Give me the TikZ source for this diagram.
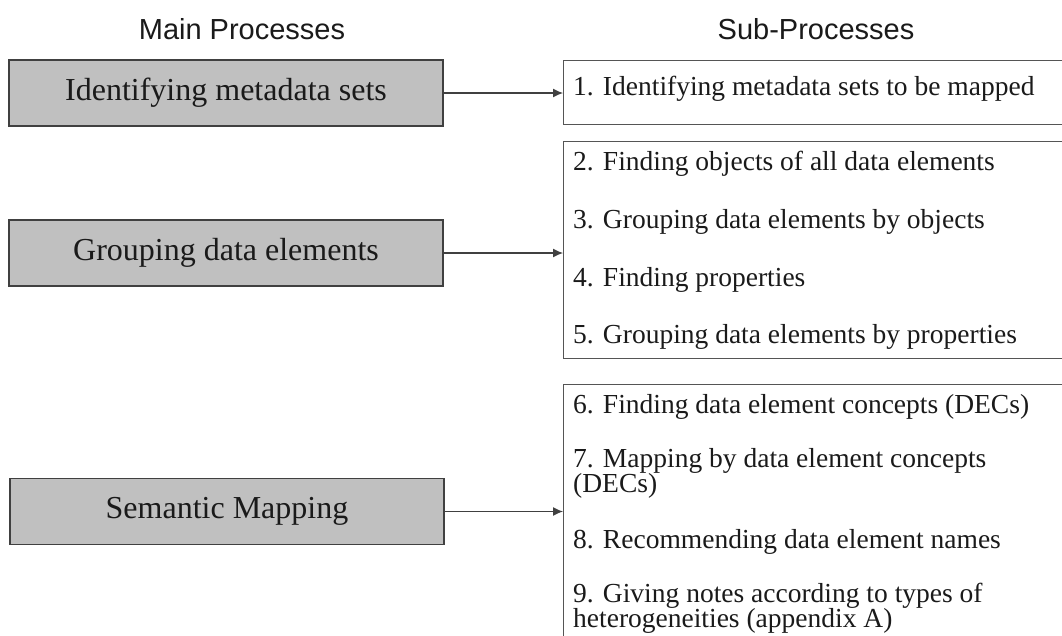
\documentclass[tikz,border=0pt]{standalone}
\usepackage{fontspec}
\setmainfont{Liberation Serif}
\newfontfamily\hdrfont{Liberation Sans}
\usetikzlibrary{arrows.meta}
\definecolor{boxgray}{HTML}{C0C0C0}
\definecolor{edgegray}{HTML}{404040}
\definecolor{subedge}{HTML}{555555}
\definecolor{txt}{HTML}{1A1A1A}
\tikzset{
  mainbox/.style={draw=edgegray, line width=1.6pt, fill=boxgray, minimum width=434pt, minimum height=66pt, inner sep=0pt, text=txt, font=\fontsize{32}{36}\selectfont},
  subbox/.style={draw=subedge, line width=1.4pt, fill=white, anchor=north west, inner sep=0pt},
  hdr/.style={text=txt, font=\hdrfont\fontsize{29}{32}\selectfont, inner sep=0pt},
  subtxt/.style={anchor=base west, inner sep=0pt, text=txt, font=\fontsize{27.5}{25}\selectfont},
  conn/.style={draw=edgegray, line width=1.2pt, -{Latex[length=10pt,width=9pt]}}
}
\begin{document}
\begin{tikzpicture}[x=1pt,y=-1pt]
\useasboundingbox (0,0) rectangle (1062,635);
\clip (0,0) rectangle (1062,635);
\fill[white] (0,0) rectangle (1062,635);
% headers
\node[hdr] (h1) at (242,29) {Main Processes};
\node[hdr] (h2) at (816,29) {Sub-Processes};
% main boxes
\node[mainbox] (m1) at (226,93) {Identifying metadata sets};
\node[mainbox] (m2) at (226,253) {Grouping data elements};
\node[mainbox] (m3) at (227,511.5) {Semantic Mapping};
% sub boxes
\node[subbox, minimum width=502pt, minimum height=64pt] (s1) at (563,60) {};
\node[subbox, minimum width=502pt, minimum height=217pt] (s2) at (563,141) {};
\node[subbox, minimum width=502pt, minimum height=270pt] (s3) at (563,384) {};
% sub texts
\node[subtxt] (t1) at (573,95) {1. Identifying metadata sets to be mapped};
\node[subtxt] (t2) at (573,170) {2. Finding objects of all data elements};
\node[subtxt] (t3) at (573,228) {3. Grouping data elements by objects};
\node[subtxt] (t4) at (573,286) {4. Finding properties};
\node[subtxt] (t5) at (573,343) {5. Grouping data elements by properties};
\node[subtxt] (t6) at (573,413) {6. Finding data element concepts (DECs)};
\node[subtxt] (t7a) at (573,467) {7. Mapping by data element concepts};
\node[subtxt] (t7b) at (573,492) {(DECs)};
\node[subtxt] (t8) at (573,548) {8. Recommending data element names};
\node[subtxt] (t9a) at (573,602) {9. Giving notes according to types of};
\node[subtxt] (t9b) at (573,627) {heterogeneities (appendix A)};
% connectors
\draw[conn] (m1.east) -- (m1.east -| s1.west);
\draw[conn] (m2.east) -- (m2.east -| s2.west);
\draw[conn] (m3.east) -- (m3.east -| s3.west);
\end{tikzpicture}
\end{document}
